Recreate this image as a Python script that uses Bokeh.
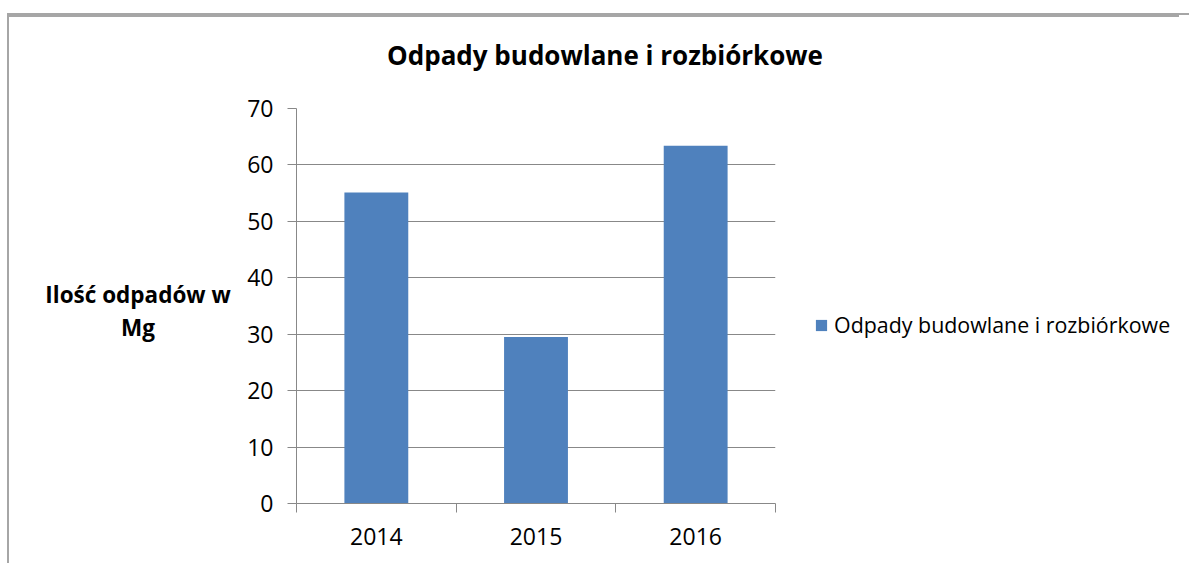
from bokeh.plotting import figure
from bokeh.layouts import row, column
from bokeh.models import FixedTicker, Range1d, Legend, LegendItem, Div
from bokeh.embed import file_html
from bokeh.resources import INLINE

# ---- data ----
years = ["2014", "2015", "2016"]
values = [55.1, 29.5, 63.4]
y_ticks = [0, 10, 20, 30, 40, 50, 60, 70]
chart_title = "Odpady budowlane i rozbiórkowe"
series_name = "Odpady budowlane i rozbiórkowe"
y_label_lines = ["Ilość odpadów w", "Mg"]

FONT = "Open Sans"
BAR = "#4f81bd"
GRID = "#888888"
BORDER = "#a6a6a6"

n = len(years)
centers = [i + 0.5 for i in range(n)]
bounds = [float(i) for i in range(n + 1)]

p = figure(
    frame_width=479, frame_height=395,
    output_backend="svg", toolbar_location=None,
    x_range=Range1d(0, n), y_range=Range1d(0, 70),
    min_border_left=52, min_border_right=404, min_border_top=20, min_border_bottom=60,
)
p.margin = 0

p.outline_line_color = None
p.background_fill_color = "white"
p.border_fill_color = "white"

# x axis: labels centred under bars, ticks on category boundaries
p.xaxis.ticker = FixedTicker(ticks=centers, minor_ticks=bounds)
p.xaxis.major_label_overrides = {c: y for c, y in zip(centers, years)}
p.xaxis.major_tick_out = 0
p.xaxis.major_tick_in = 0
p.xaxis.minor_tick_out = 9
p.xaxis.minor_tick_in = 0
p.xaxis.minor_tick_line_color = GRID
p.xaxis.axis_line_color = GRID
p.xaxis.major_label_standoff = 15
p.xaxis.major_label_text_font = FONT
p.xaxis.major_label_text_font_size = "23px"
p.xaxis.major_label_text_color = "#000000"
p.xgrid.grid_line_color = None

# y axis
p.yaxis.ticker = FixedTicker(ticks=y_ticks)
p.yaxis.minor_tick_line_color = None
p.yaxis.major_tick_out = 9
p.yaxis.major_tick_in = 0
p.yaxis.major_tick_line_color = GRID
p.yaxis.axis_line_color = GRID
p.yaxis.major_label_standoff = 14
p.yaxis.major_label_text_font = FONT
p.yaxis.major_label_text_font_size = "23px"
p.yaxis.major_label_text_color = "#000000"
p.ygrid.grid_line_color = GRID
p.ygrid.grid_line_width = 1

r = p.vbar(x=centers, top=values, width=0.4, fill_color=BAR, line_color=None)

legend = Legend(items=[LegendItem(label=series_name, renderers=[r])])
legend.location = (39, 164)
legend.border_line_color = None
legend.background_fill_alpha = 0
legend.label_text_font = FONT
legend.label_text_font_size = "21.4px"
legend.label_text_color = "#000000"
legend.glyph_width = 14
legend.glyph_height = 14
legend.label_standoff = 6
legend.margin = 0
legend.padding = 4
p.add_layout(legend, "right")

# chart title (with the top edge of the chart-area border)
title_div = Div(
    text=(
        "<div style=\"height:2px;width:1170px;background:" + BORDER + "\"></div>"
        "<div style=\"width:600px;margin-left:296px;margin-top:20px;text-align:center;"
        "font-family:'Open Sans';font-weight:bold;font-size:26px;line-height:36px;color:#000;white-space:nowrap\">"
        + chart_title + "</div>"
    ),
    width=1170, height=73, margin=0,
)

# horizontal, centred two-line y-axis title
ylab = Div(
    text=(
        "<div style=\"width:220px;margin-left:19px;margin-top:190px;text-align:center;"
        "font-family:'Open Sans';font-weight:bold;font-size:22.5px;line-height:33px;color:#000;white-space:nowrap\">"
        + "<br>".join(y_label_lines) + "</div>"
    ),
    width=235, height=300, margin=0,
)

layout = column(title_div, row(ylab, p))
layout.margin = (15, 8, 0, 9)
layout.styles = {"outline": "2px solid " + BORDER, "background": "white"}

open("out.html", "w").write(file_html(layout, INLINE))
